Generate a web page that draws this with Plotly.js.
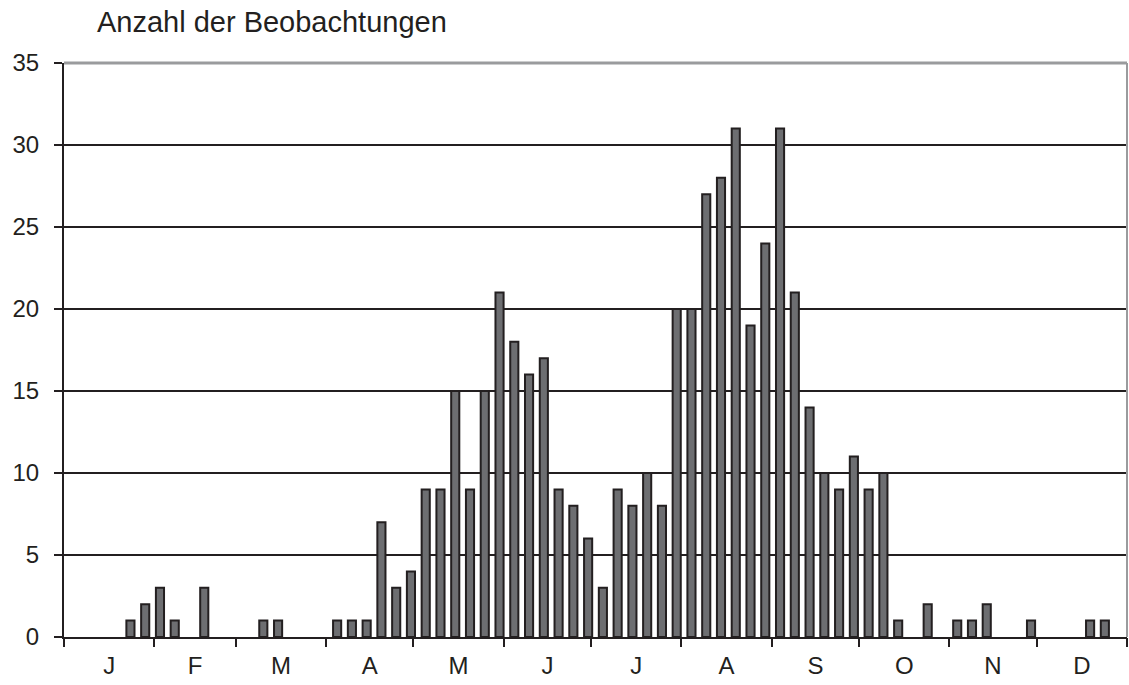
<!DOCTYPE html>
<html>
<head>
<meta charset="utf-8">
<script src="https://cdn.plot.ly/plotly-3.0.1.min.js"></script>
<style>
html,body{margin:0;padding:0;background:#fff;}
#chart{width:1129px;height:685px;}
</style>
</head>
<body>
<div id="chart"></div>
<script>
// Observations per period (6 periods per month, Jan..Dec)
const periodCounts = [
  0,0,0,0,1,2,   3,1,0,3,0,0,   0,1,1,0,0,0,   1,1,1,7,3,4,
  9,9,15,9,15,21, 18,16,17,9,8,6, 3,9,8,10,8,20, 20,27,28,31,19,24,
  31,21,14,10,9,11, 9,10,1,0,2,0, 1,1,2,0,0,1, 0,0,0,1,1,0
];
const monthLabels = ["J","F","M","A","M","J","J","A","S","O","N","D"];
const monthDays = [31,28,31,30,31,30,31,31,30,31,30,31];
const yTitle = "Anzahl der Beobachtungen";
const yTicks = [0,5,10,15,20,25,30,35];

const xPos = periodCounts.map((_, i) => i + 0.5);
const yVals = periodCounts.map(v => (v === 0 ? null : v));
const monthBounds = [0];
monthDays.forEach(d => monthBounds.push(monthBounds[monthBounds.length - 1] + d));
const monthCenters = monthLabels.map((_, i) => (monthBounds[i] + monthBounds[i + 1]) / 2);
const yearDays = monthBounds[monthBounds.length - 1];

const font = "Liberation Sans, Arial, Helvetica, sans-serif";
const ink = "#231f20";

const trace = {
  type: "bar",
  x: xPos,
  y: yVals,
  xaxis: "x", yaxis: "y",
  marker: { color: "#6d6e71", line: { color: ink, width: 2 } },
  hoverinfo: "y"
};

const layout = {
  width: 1129, height: 685,
  margin: { l: 64, r: 2, t: 63, b: 48, pad: 0 },
  paper_bgcolor: "#fff", plot_bgcolor: "#fff",
  showlegend: false,
  bargap: 0.45,
  font: { family: font, size: 24, color: ink },
  title: {
    text: yTitle,
    font: { family: font, size: 29, color: ink },
    xref: "paper", x: 0.031, xanchor: "left",
    yref: "container", y: 0.968, yanchor: "middle"
  },
  xaxis: {
    range: [0, periodCounts.length],
    showticklabels: false, ticks: "", showgrid: false, zeroline: false,
    showline: true, linecolor: ink, linewidth: 2,
    fixedrange: true
  },
  xaxis2: {
    overlaying: "x", anchor: "y", side: "bottom",
    range: [0, yearDays],
    tickmode: "array", tickvals: monthCenters, ticktext: monthLabels,
    ticks: "", showgrid: false, zeroline: false, showline: false,
    ticklabelstandoff: 12,
    tickfont: { family: font, size: 24, color: ink },
    minor: { tickmode: "array", tickvals: monthBounds, ticks: "outside", ticklen: 9, tickwidth: 2, tickcolor: ink, showgrid: false },
    fixedrange: true
  },
  yaxis: {
    range: [0, 35],
    tickmode: "array", tickvals: yTicks,
    ticks: "outside", ticklen: 8, tickwidth: 2, tickcolor: ink,
    showgrid: true, gridcolor: ink, gridwidth: 2,
    zeroline: false, showline: true, linecolor: ink, linewidth: 2,
    ticklabelstandoff: 10,
    tickfont: { family: font, size: 24, color: ink },
    fixedrange: true
  },
  shapes: [
    { type: "line", xref: "paper", yref: "paper", x0: 0, x1: 1, y0: 1, y1: 1, line: { color: "#9a9b9d", width: 3 }, layer: "above" },
    { type: "line", xref: "paper", yref: "paper", x0: 1, x1: 1, y0: 0, y1: 1, line: { color: "#9a9b9d", width: 2 }, layer: "above" }
  ]
};

// invisible helper trace so that xaxis2 is drawn
const axisTrace = { type: "scatter", x: [0, yearDays], y: [null, null], xaxis: "x2", yaxis: "y", hoverinfo: "skip", showlegend: false };

Plotly.newPlot("chart", [trace, axisTrace], layout, { displayModeBar: false, staticPlot: true });
</script>
</body>
</html>
